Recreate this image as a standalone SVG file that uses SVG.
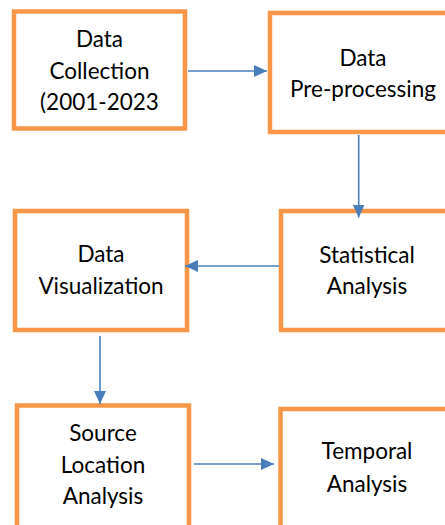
<svg xmlns="http://www.w3.org/2000/svg" width="445" height="525" viewBox="0 0 445 525">
<style>
.box{fill:#fff;stroke:#F79646;stroke-width:4.5}
.t{font-family:Lato,"Liberation Sans",sans-serif;font-size:22.5px;fill:#000;text-anchor:middle}
.c{stroke:#4A7EBB;stroke-width:1.6;fill:none}
</style>
<defs>
<marker id="ah" markerUnits="userSpaceOnUse" markerWidth="14" markerHeight="12" refX="13" refY="6" orient="auto">
<path d="M0,0 L13,6 L0,12 Z" fill="#4A7EBB"/>
</marker>
</defs>
<rect width="445" height="525" fill="#fff"/>
<g id="n1"><rect class="box" x="14" y="11.5" width="171" height="117"/>
<text class="t" x="99.5" y="47">Data</text><text class="t" x="99.5" y="79">Collection</text><text class="t" x="99.5" y="110">(2001-2023</text></g>
<g id="n2"><rect class="box" x="270" y="13" width="190" height="119"/>
<text class="t" x="363" y="66">Data</text><text class="t" x="363" y="97">Pre-processing</text></g>
<g id="n3"><rect class="box" x="15" y="211" width="172" height="119"/>
<text class="t" x="101" y="262">Data</text><text class="t" x="101" y="294">Visualization</text></g>
<g id="n4"><rect class="box" x="281" y="211" width="180" height="119"/>
<text class="t" x="367" y="263">Statistical</text><text class="t" x="367" y="294">Analysis</text></g>
<g id="n5"><rect class="box" x="17" y="405.5" width="172" height="130"/>
<text class="t" x="103" y="441">Source</text><text class="t" x="103" y="473">Location</text><text class="t" x="103" y="504">Analysis</text></g>
<g id="n6"><rect class="box" x="280.5" y="409" width="180" height="130"/>
<text class="t" x="367" y="459">Temporal</text><text class="t" x="367" y="492">Analysis</text></g>
<g id="connectors">
<line class="c" x1="188" y1="71" x2="267" y2="71" marker-end="url(#ah)"/>
<line class="c" x1="358.7" y1="135" x2="358.7" y2="217.5" marker-end="url(#ah)"/>
<line class="c" x1="279" y1="266" x2="185" y2="266" marker-end="url(#ah)"/>
<line class="c" x1="100" y1="336" x2="100" y2="404" marker-end="url(#ah)"/>
<line class="c" x1="194" y1="464" x2="274" y2="464" marker-end="url(#ah)"/>
</g>
</svg>
